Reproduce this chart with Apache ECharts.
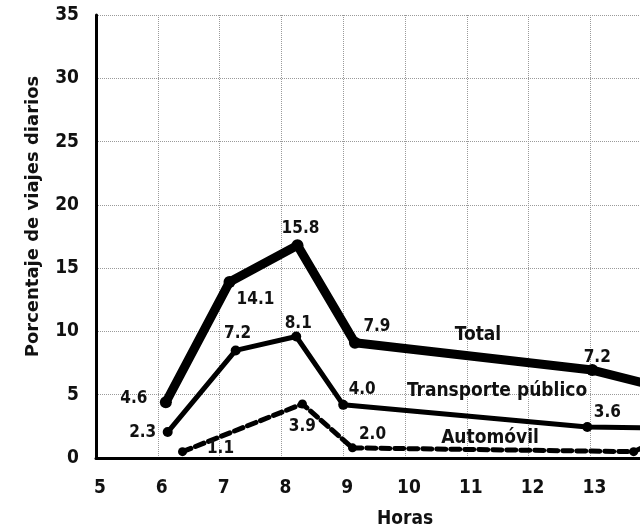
<!DOCTYPE html>
<html>
<head>
<meta charset="utf-8">
<script src="https://cdn.jsdelivr.net/npm/echarts@6/dist/echarts.min.js"></script>
<style>
html,body{margin:0;padding:0;background:#fff;}
#chart{width:640px;height:530px;}
</style>
</head>
<body>
<div id="chart"></div>
<script>
// ---- data ----
const xTicks = [5, 6, 7, 8, 9, 10, 11, 12, 13, 14, 15];
const yTicks = [0, 5, 10, 15, 20, 25, 30, 35];

const totalHours = [6.13, 7.16, 8.26, 9.19, 13.03, 14.2];
const totalValues = [4.4, 13.9, 16.8, 9.1, 6.95, 5.5];
const totalLabels = ['4.6', '14.1', '15.8', '7.9', '7.2', ''];

const publicHours = [6.16, 7.26, 8.24, 9.0, 12.95, 14.2];
const publicValues = [2.05, 8.5, 9.6, 4.2, 2.45, 2.35];
const publicLabels = ['2.3', '7.2', '8.1', '4.0', '3.6', ''];

const carHours = [6.4, 8.34, 9.15, 13.7, 14.0];
const carValues = [0.5, 4.27, 0.8, 0.5, 1.2];
const carLabels = ['1.1', '3.9', '2.0', '', ''];

const seriesNames = ['Total', 'Transporte público', 'Automóvil'];
const yTitle = 'Porcentaje de viajes diarios';
const xTitle = 'Horas';

// ---- layout / style ----
const FONT = '"DejaVu Sans Condensed", "Liberation Sans Narrow", "Open Sans", sans-serif';
const FONT_WIDE = '"DejaVu Sans", "Open Sans", sans-serif';
const totalOffsets = [[-32, -4], [26, 18], [3, -17], [22, -16], [5, -12], [0, 0]];
const publicOffsets = [[-25, 1], [2, -17], [2, -13], [19, -15], [20, -14], [0, 0]];
const carOffsets = [[38, -3], [0, 23], [20, -13], [0, 0], [0, 0]];
const nameSpots = [[478, 335], [497, 391], [490, 438]];

function build(hours, values, labels, offsets) {
  return hours.map((h, i) => ({
    value: [h, values[i]],
    label: {
      show: labels[i] !== '',
      formatter: () => labels[i],
      offset: offsets[i],
      position: 'inside'
    }
  }));
}

const labelStyle = {
  color: '#111', fontFamily: FONT, fontSize: 17, fontWeight: 'bold'
};

const chart = echarts.init(document.getElementById('chart'), null, {renderer: 'canvas'});
chart.setOption({
  animation: false,
  backgroundColor: '#fff',
  grid: {left: 96, top: 15, bottom: 72, right: -74, containLabel: false, outerBoundsMode: 'none'},
  xAxis: {
    type: 'value', min: 5, max: 15, interval: 1,
    axisLine: {show: true, onZero: false, lineStyle: {color: '#000', width: 3}},
    axisTick: {show: false},
    axisLabel: {color: '#111', fontFamily: FONT, fontSize: 19, fontWeight: 'bold', margin: 21, padding: [0, 0, 0, 8]},
    splitLine: {show: true, lineStyle: {color: '#9a9a9a', type: 'dotted', width: 1}},
    name: xTitle, nameLocation: 'middle', nameGap: 52,
    nameTextStyle: {color: '#111', fontFamily: FONT, fontSize: 19, fontWeight: 'bold'}
  },
  yAxis: {
    type: 'value', min: 0, max: 35, interval: 5,
    axisLine: {show: true, lineStyle: {color: '#000', width: 3}},
    axisTick: {show: false},
    axisLabel: {color: '#111', fontFamily: FONT, fontSize: 19, fontWeight: 'bold', margin: 17},
    splitLine: {show: true, lineStyle: {color: '#9a9a9a', type: 'dotted', width: 1}},
    name: yTitle, nameLocation: 'middle', nameGap: 54, nameRotate: 90,
    nameTextStyle: {color: '#111', fontFamily: FONT_WIDE, fontSize: 18, fontWeight: 'bold', padding: [0, 0, 0, 40]}
  },
  series: [
    {
      name: seriesNames[0], type: 'line',
      data: build(totalHours, totalValues, totalLabels, totalOffsets),
      symbol: 'circle', symbolSize: 12,
      itemStyle: {color: '#000'},
      lineStyle: {color: '#000', width: 9, join: 'round'},
      label: labelStyle, z: 5
    },
    {
      name: seriesNames[1], type: 'line',
      data: build(publicHours, publicValues, publicLabels, publicOffsets),
      symbol: 'circle', symbolSize: 10,
      itemStyle: {color: '#000'},
      lineStyle: {color: '#000', width: 5, join: 'round'},
      label: labelStyle, z: 4
    },
    {
      name: seriesNames[2], type: 'line',
      data: build(carHours, carValues, carLabels, carOffsets),
      symbol: 'circle', symbolSize: 9,
      itemStyle: {color: '#000'},
      lineStyle: {color: '#000', width: 5, type: [9, 5], cap: 'round', join: 'round'},
      label: labelStyle, z: 3
    }
  ],
  graphic: seriesNames.map((n, i) => ({
    type: 'text', x: nameSpots[i][0], y: nameSpots[i][1], z: 10,
    style: {text: n, fill: '#111', font: 'bold 19px ' + FONT, align: 'center', verticalAlign: 'middle'}
  }))
});
</script>
</body>
</html>
